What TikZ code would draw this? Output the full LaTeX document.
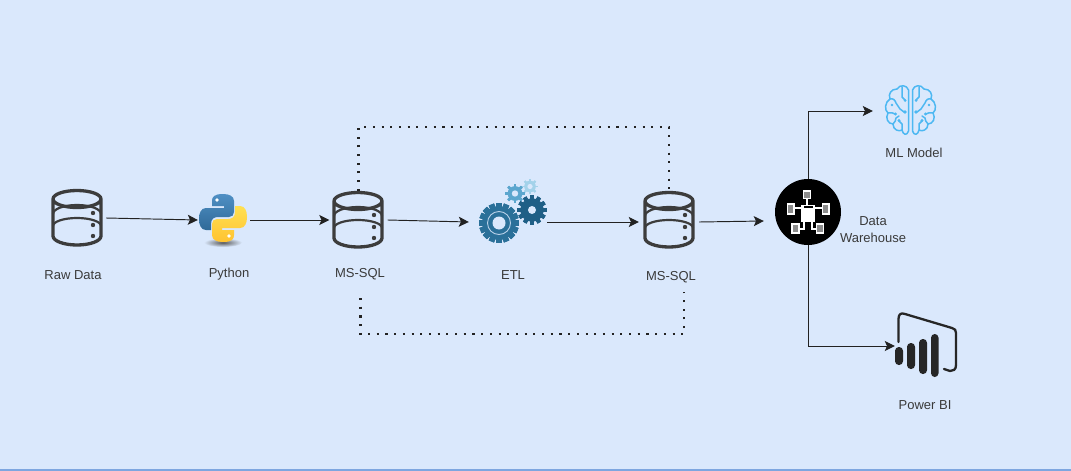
\documentclass[tikz,border=0pt]{standalone}
\usepackage{fontspec}
\setmainfont{Liberation Sans}
\usetikzlibrary{arrows.meta}
\definecolor{bgc}{HTML}{DAE8FC}
\definecolor{edgec}{HTML}{7EA6E0}
\definecolor{lnc}{HTML}{222222}
\definecolor{txc}{HTML}{3A3A3A}
\definecolor{dbc}{HTML}{3C3C3C}
\definecolor{brc}{HTML}{4DB8F2}
\definecolor{bluetop}{HTML}{4F8FC4}
\definecolor{bluebot}{HTML}{2F6A98}
\definecolor{yeltop}{HTML}{FFE052}
\definecolor{yelbot}{HTML}{FFC331}
\definecolor{gearA}{HTML}{2A7099}
\definecolor{gearB}{HTML}{1F5F86}
\definecolor{gearC}{HTML}{5BA6CE}
\definecolor{gearD}{HTML}{A3D2EA}
\tikzset{
  x=1pt,y=-1pt,
  conn/.style={draw=lnc,line width=0.95pt,-{Stealth[length=10pt,width=10pt,inset=2.2pt]}},
  dots/.style={draw=lnc,line width=2.1pt,dash pattern=on 2.1pt off 6.6pt},
  lbl/.style={font=\fontsize{13}{16.5}\selectfont,text=txc,inner sep=0pt,align=center},
  anchorbox/.style={inner sep=0pt,minimum width=#1,minimum height=#1},
  dbline/.style={draw=dbc,line width=3.3pt,line join=round},
  dbthin/.style={draw=dbc,line width=2.2pt},
  brainline/.style={draw=brc,line width=1.5pt,line cap=round,line join=round}
}
\newcommand{\dbicon}[2]{%
  \begin{scope}[shift={(#1,#2)}]
    \draw[dbline] (-24,-19) arc[start angle=180,end angle=0,x radius=24,y radius=8.5]
      -- (24,18) arc[start angle=0,end angle=180,x radius=24,y radius=9] -- cycle;
    \draw[dbline] (-24,-19) arc[start angle=180,end angle=360,x radius=24,y radius=8.5];
    \draw[dbthin] (-24,-4) arc[start angle=180,end angle=360,x radius=24,y radius=9];
    \draw[dbthin] (-24,8) arc[start angle=180,end angle=360,x radius=24,y radius=8];
    \fill[dbc] (16,-5) circle (2.2) (16,7) circle (2.2) (16,18) circle (2.2);
  \end{scope}}
\newcommand{\gearicon}[7]{% x y R r n colour hole
  \foreach \k in {1,...,#5}{
    \fill[#6,rotate around={\k*360/#5:(#1,#2)}] (#1-#4*0.17,#2-#3) rectangle (#1+#4*0.17,#2+#3);
  }
  \fill[#6] (#1,#2) circle (#4);
  \fill[bgc] (#1,#2) circle (#7);}
\newcommand{\snake}{%
  (223,194) .. controls (214,194) and (212,197) .. (212,201) -- (212,206) -- (224,206) -- (224,208) -- (206,208)
  .. controls (201,208) and (199,213) .. (199,219) .. controls (199,225) and (201,230) .. (206,230)
  -- (211,230) -- (211,224) .. controls (211,219) and (214,217) .. (218,217) -- (229,217)
  .. controls (232,217) and (234,215) .. (234,212) -- (234,201) .. controls (234,196) and (229,194) .. (223,194) -- cycle}
\newcommand{\brainhalf}{%
  \draw[brainline] (908.5,90) .. controls (907,85) and (900,84) .. (897,89)
    .. controls (891,89) and (888,94) .. (890,99)
    .. controls (885,102) and (884,110) .. (888,113)
    .. controls (885,118) and (888,124) .. (893,124)
    .. controls (893,130) and (899,132) .. (902,130)
    .. controls (903,135) and (907,136) .. (908.5,131) -- cycle;
  \draw[brainline] (902,87) -- (902,97) -- (905,100);
  \draw[brainline] (890,99) .. controls (893,98) and (895,100) .. (896,103) -- (900,109) -- (904,112);
  \draw[brainline] (888,113) .. controls (891,113) and (893,112) .. (895,114);
  \draw[brainline] (893,124) .. controls (895,122) and (896,120) .. (896,118) -- (899,116);
  \draw[brainline] (902,130) -- (902,124) -- (899,121);
  \fill[brc] (905,112) circle (1.9) (905,100.5) circle (1.5) (895.5,114) circle (1.6) (899,120.5) circle (1.7) (892,105) circle (1.3);}
\begin{document}
\begin{tikzpicture}
\useasboundingbox (0,0) rectangle (1071,471);
\fill[bgc] (0,0) rectangle (1071,471);
\fill[edgec] (0,469) rectangle (1071,471);

% icons
\dbicon{77}{218}
\dbicon{358}{220}
\dbicon{669}{220}

% python
\shade[inner color=black!65,outer color=bgc] (223,242.5) ellipse[x radius=19,y radius=4.5];
\shade[top color=bluetop,bottom color=bluebot] \snake;
\fill[white] (217,200) circle (1.8);
\begin{scope}[rotate around={180:(223,218)}]
  \shade[top color=yeltop,bottom color=yelbot] \snake;
  \fill[white] (217,200) circle (1.8);
\end{scope}

% gears
\gearicon{530}{186.5}{7.6}{5.8}{8}{gearD}{2.6}
\gearicon{515}{193.5}{9.6}{7.4}{8}{gearC}{3.2}
\gearicon{532}{210}{14.6}{11.8}{12}{gearB}{4}
\gearicon{499}{223}{20}{16.8}{16}{gearA}{6.5}
\draw[bgc!80!gearA,line width=0.9pt] (499,223) circle (11.5);

% data warehouse
\fill[black] (808,212) circle (33);
\draw[white,line width=1.5pt] (807,195) -- (807,206) (794,208) -- (822,208)
  (804,220) -- (804,229) -- (799,229) (812,220) -- (812,229) -- (816,229);
\draw[white,line width=1.5pt,fill=black!45] (803.5,191) rectangle (810.5,198.5);
\fill[white] (801,205) rectangle (815,222);
\fill[black] (803.5,206) rectangle (812.5,207.6);
\draw[white,line width=1.5pt,fill=black!45] (787.5,204) rectangle (794,214);
\draw[white,line width=1.5pt,fill=black!45] (822.5,204) rectangle (829,214);
\draw[white,line width=1.5pt,fill=black!45] (792,224) rectangle (799,233);
\draw[white,line width=1.5pt,fill=black!45] (816.5,224) rectangle (823.5,233);

% brain
\brainhalf
\begin{scope}[shift={(1821,0)},xscale=-1]
\brainhalf
\end{scope}

% power bi
\draw[draw=black!85,line width=2.3pt,line cap=round,line join=round]
  (898.5,342) -- (898.5,319) .. controls (898.5,314) and (901,312.5) .. (905,314)
  -- (952,328) .. controls (955,329) and (956,330) .. (956,333)
  -- (956,365) .. controls (956,370) and (953,371) .. (950,371) -- (944,369);
\fill[black!85,rounded corners=3.8pt] (895,347) rectangle (903,365);
\fill[black!85,rounded corners=3.8pt] (907,343) rectangle (915,369);
\fill[black!85,rounded corners=3.8pt] (919,339) rectangle (927,374);
\fill[black!85,rounded corners=3.7pt] (931,334) rectangle (938.5,377);

% anchor nodes
\node[anchorbox=58] (raw) at (77,218) {};
\node[anchorbox=52] (py) at (224,218) {};
\node[anchorbox=58] (sqla) at (358.5,220) {};
\node[anchorbox=78] (etl) at (508,221) {};
\node[anchorbox=60] (sqlb) at (669,221) {};
\node[anchorbox=66] (dw) at (808,212) {};
\node[inner sep=0pt,minimum width=72,minimum height=52] (ml) at (909,111) {};
\node[inner sep=0pt,minimum width=62,minimum height=64] (pbi) at (926,346) {};

% labels
\node[lbl] (lraw) at (73,275.5) {Raw Data};
\node[lbl] (lpy) at (229,274) {Python};
\node[lbl] (lsqla) at (360,274) {MS-SQL};
\node[lbl] (letl) at (513,275.5) {ETL};
\node[lbl] (lsqlb) at (671,277) {MS-SQL};
\node[lbl] (lml) at (914,153) {ML Model};
\node[lbl] (ldw) at (873,229.5) {Data\\Warehouse};
\node[lbl] (lpbi) at (925,405) {Power BI};

% connectors
\coordinate (dl) at (360.5,298);
\coordinate (dr) at (684,292);
\coordinate (dc) at (0,334);
\draw[conn] (raw.east) -- ([yshift=-2pt]py.west);
\draw[conn] ([yshift=-2pt]py.east) -- (sqla.west);
\draw[conn] (sqla.east) -- ([yshift=-1pt]etl.west);
\draw[conn] ([yshift=-1pt]etl.east) -- ([yshift=-1pt]sqlb.west);
\draw[conn] ([yshift=-1pt]sqlb.east) -- ([xshift=-11pt,yshift=-9pt]dw.west);
\draw[conn] (dw.north) |- (ml.west);
\draw[conn] (dw.south) |- (pbi.west);
\draw[dots] (sqla.north) -- ++(0,-64) -| (sqlb.north);
\draw[dots] (dl) -- (dl|-dc) -- (dr|-dc) -- (dr);
\end{tikzpicture}
\end{document}
